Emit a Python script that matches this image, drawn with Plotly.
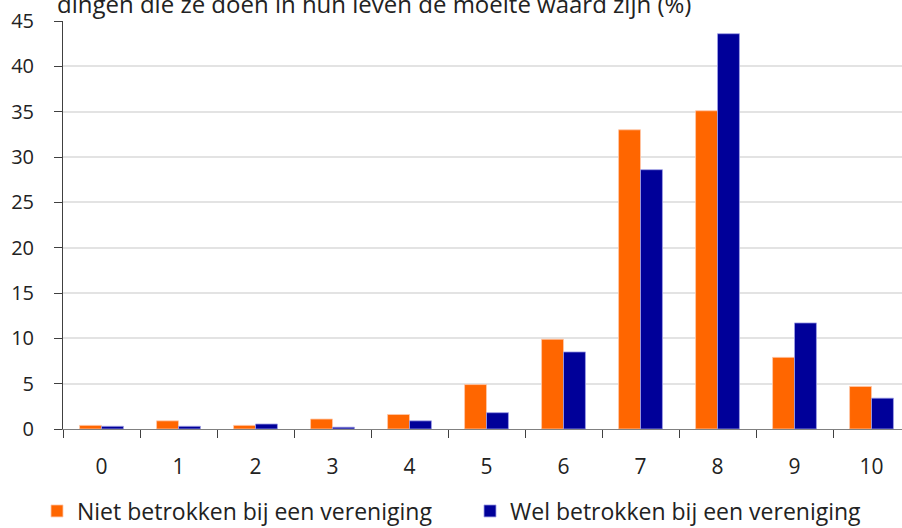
import plotly.graph_objects as go

categories = ["0", "1", "2", "3", "4", "5", "6", "7", "8", "9", "10"]
niet_betrokken = [0.4, 0.9, 0.4, 1.1, 1.6, 4.9, 9.9, 33.0, 35.1, 7.9, 4.7]
wel_betrokken = [0.3, 0.3, 0.55, 0.2, 0.9, 1.8, 8.5, 28.6, 43.6, 11.7, 3.4]
y_ticks = [0, 5, 10, 15, 20, 25, 30, 35, 40, 45]
title_text = "dingen die ze doen in hun leven de moeite waard zijn (%)"

FONT = "Open Sans, Noto Sans, DejaVu Sans, sans-serif"

fig = go.Figure()
fig.add_trace(go.Bar(
    x=categories, y=niet_betrokken, name="Niet betrokken bij een vereniging",
    marker=dict(color="#FF6600", line=dict(color="rgba(255,200,170,0.8)", width=1)),
    legend="legend",
))
fig.add_trace(go.Bar(
    x=categories, y=wel_betrokken, name="Wel betrokken bij een vereniging",
    marker=dict(color="#000099", line=dict(color="rgba(160,160,230,0.8)", width=1)),
    legend="legend2",
))

legend_common = dict(
    orientation="h", xref="container", yref="container",
    y=1 - 511 / 528, yanchor="middle", xanchor="left",
    font=dict(size=23, color="#222222"),
    bgcolor="rgba(0,0,0,0)",
)

fig.update_layout(
    width=902, height=528,
    margin=dict(l=63, r=0, t=21, b=99, autoexpand=False),
    paper_bgcolor="white", plot_bgcolor="white",
    barmode="group", bargap=0.43, bargroupgap=0,
    font=dict(family=FONT, size=20, color="#222222"),
    showlegend=True,
    legend=dict(x=37 / 902, **legend_common),
    legend2=dict(x=470 / 902, **legend_common),
    xaxis=dict(
        type="category", range=[-0.5, 10.396],
        showline=True, linecolor="#808080", linewidth=1,
        ticks="outside", tickson="boundaries", ticklen=8, tickcolor="#404040",
        ticklabelstandoff=19,
        tickfont=dict(size=21, color="#222222"),
        showgrid=False,
    ),
    yaxis=dict(
        range=[0, 45], tickvals=y_ticks,
        showline=True, linecolor="#404040", linewidth=1,
        ticks="outside", ticklen=8, tickcolor="#404040",
        ticklabelstandoff=16,
        tickfont=dict(size=20, color="#222222"),
        showgrid=True, gridcolor="#e3e3e3", gridwidth=2,
        zeroline=False,
    ),
    annotations=[dict(
        text=title_text, xref="paper", yref="paper", x=(55 - 63) / 839, y=1,
        xanchor="left", yanchor="bottom", yshift=-1, showarrow=False,
        font=dict(size=24, color="#222222"),
    )],
)

fig.write_html("out.html")
